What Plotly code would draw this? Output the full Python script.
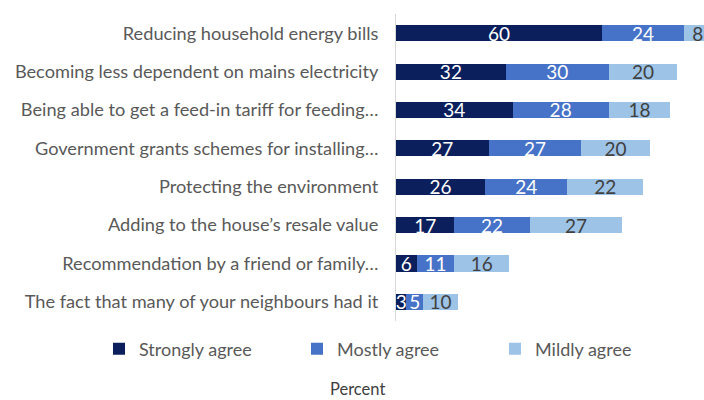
import plotly.graph_objects as go

# Reasons for installing solar panels (percent of respondents)
reasons = [
    "Reducing household energy bills",
    "Becoming less dependent on mains electricity",
    "Being able to get a feed-in tariff for feeding…",
    "Government grants schemes for installing…",
    "Protecting the environment",
    "Adding to the house’s resale value",
    "Recommendation by a friend or family…",
    "The fact that many of your neighbours had it",
]
strongly_agree = [60, 32, 34, 27, 26, 17, 6, 3]
mostly_agree = [24, 30, 28, 27, 24, 22, 11, 5]
mildly_agree = [8, 20, 18, 20, 22, 27, 16, 10]

series = [
    ("Strongly agree", strongly_agree, "#0b1f5c", "white"),
    ("Mostly agree", mostly_agree, "#4672c7", "white"),
    ("Mildly agree", mildly_agree, "#9dc3e6", "#404040"),
]

FONT = "Lato, 'Open Sans', sans-serif"

fig = go.Figure()
for name, vals, color, tcolor in series:
    fig.add_trace(go.Bar(
        y=reasons,
        x=vals,
        name=name,
        orientation="h",
        marker=dict(color=color, line=dict(width=0)),
        width=0.42,
        text=[str(v) for v in vals],
        textposition="inside",
        insidetextanchor="middle",
        textangle=0,
        constraintext="none",
        textfont=dict(color=tcolor, size=19, family=FONT),
    ))

fig.update_layout(
    width=704,
    height=400,
    barmode="stack",
    plot_bgcolor="white",
    paper_bgcolor="white",
    margin=dict(l=396, r=0, t=14, b=79, autoexpand=False),
    uniformtext=dict(minsize=19, mode="show"),
    font=dict(family=FONT, color="#595959"),
    legend=dict(
        orientation="h",
        traceorder="normal",
        x=(99 - 396) / 308,
        xanchor="left",
        y=-(349 - 321) / 307,
        yanchor="middle",
        entrywidth=153,
        entrywidthmode="pixels",
        font=dict(size=18, color="#595959", family=FONT),
        itemclick=False,
    ),
    showlegend=True,
)

fig.update_xaxes(
    range=[0, 89.8],
    showgrid=False,
    zeroline=False,
    showticklabels=False,
    showline=False,
)
fig.update_yaxes(
    autorange="reversed",
    showgrid=False,
    showline=True,
    linecolor="#d9d9d9",
    linewidth=1,
    ticks="",
    ticklabelstandoff=13,
    tickfont=dict(size=18.2, color="#595959", family=FONT),
)

fig.add_annotation(
    text="Percent",
    xref="paper", yref="paper",
    x=(357 - 396) / 308, y=-(389 - 321) / 307,
    xanchor="center", yanchor="middle",
    showarrow=False,
    font=dict(size=16.5, color="#404040", family=FONT),
)

fig.write_html("out.html")
